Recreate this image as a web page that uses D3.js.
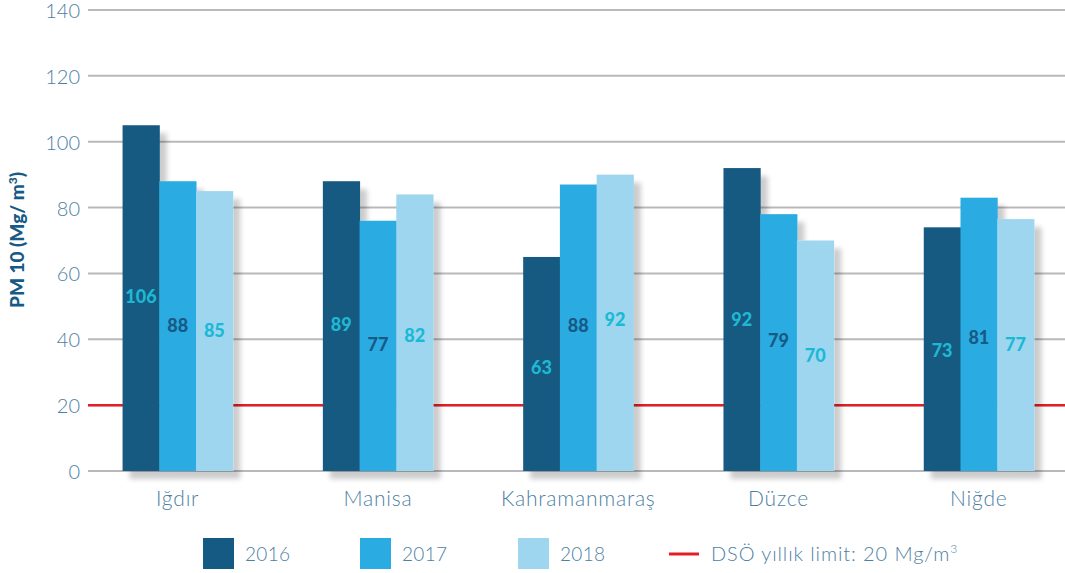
<!DOCTYPE html>
<html>
<head>
<meta charset="utf-8">
<script src="https://d3js.org/d3.v7.min.js"></script>
<style>
  body { margin: 0; background: #fff; }
  text { font-family: Lato, "Open Sans", sans-serif; }
</style>
</head>
<body>
<div id="chart"></div>
<script>
// data
var cities = ["Iğdır", "Manisa", "Kahramanmaraş", "Düzce", "Niğde"];
var years = ["2016", "2017", "2018"];
// bar heights as drawn
var bars2016 = [105, 88, 65, 92, 74];
var bars2017 = [88, 76, 87, 78, 83];
var bars2018 = [85, 84, 90, 70, 76.5];
// printed labels
var labels2016 = [106, 89, 63, 92, 73];
var labels2017 = [88, 77, 88, 79, 81];
var labels2018 = [85, 82, 92, 70, 77];
var yTicks = [0, 20, 40, 60, 80, 100, 120, 140];
var limit = 20;

var colors = ["#155a82", "#2aace2", "#9ed6ef"];
var labelColors = ["#1fb8d2", "#175a85", "#1ab9d6"];

var W = 1065, H = 573;
var svg = d3.select("#chart").append("svg")
  .attr("width", W).attr("height", H);

var defs = svg.append("defs");
var f = defs.append("filter").attr("id", "shadow")
  .attr("x", "-20%").attr("y", "-20%").attr("width", "150%").attr("height", "150%");
f.append("feDropShadow")
  .attr("dx", 7).attr("dy", 8).attr("stdDeviation", 2.5)
  .attr("flood-color", "#000").attr("flood-opacity", 0.2);

var y = d3.scaleLinear().domain([0, 140]).range([471, 10]);
var x0 = d3.scaleBand().domain(cities).range([77.5, 1079])
  .paddingInner(0.45).paddingOuter(0.225);
var x1 = d3.scaleBand().domain(years).range([0, x0.bandwidth()]);

// grid + tick labels
var grid = svg.append("g");
grid.selectAll("line").data(yTicks).join("line")
  .attr("x1", 88).attr("x2", W)
  .attr("y1", d => y(d)).attr("y2", d => y(d))
  .attr("stroke", "#b9b9bd").attr("stroke-width", 2);
grid.selectAll("text").data(yTicks).join("text")
  .attr("x", 80).attr("y", d => y(d) + 1)
  .attr("dy", "0.35em")
  .attr("text-anchor", "end")
  .attr("font-size", 20).attr("font-weight", 300)
  .attr("fill", "#4d7fa3")
  .text(d => d);

// limit line
svg.append("line")
  .attr("x1", 88).attr("x2", W)
  .attr("y1", y(limit)).attr("y2", y(limit))
  .attr("stroke", "#e31e24").attr("stroke-width", 2.5);

var rows = cities.map(function(c, i) {
  return {
    city: c,
    vals: [bars2016[i], bars2017[i], bars2018[i]],
    labs: [labels2016[i], labels2017[i], labels2018[i]]
  };
});

var groups = svg.append("g").selectAll("g").data(rows).join("g")
  .attr("transform", d => "translate(" + x0(d.city) + ",0)");

groups.append("g").attr("filter", "url(#shadow)")
  .selectAll("rect").data(d => d.vals).join("rect")
  .attr("x", (d, i) => x1(years[i]))
  .attr("width", x1.bandwidth() + 0.5)
  .attr("y", d => y(d))
  .attr("height", d => y(0) - y(d))
  .attr("fill", (d, i) => colors[i]);

groups.selectAll("text.val").data(d => d.labs).join("text")
  .attr("class", "val")
  .attr("x", (d, i) => x1(years[i]) + x1.bandwidth() / 2)
  .attr("y", d => y(d / 2))
  .attr("dy", "0.35em")
  .attr("text-anchor", "middle")
  .attr("font-size", 18).attr("font-weight", 900)
  .attr("fill", (d, i) => labelColors[i])
  .text(d => d);

// category labels
svg.append("g").selectAll("text").data(cities).join("text")
  .attr("x", d => x0(d) + x0.bandwidth() / 2)
  .attr("y", 506)
  .attr("text-anchor", "middle")
  .attr("font-size", 21).attr("font-weight", 300)
  .attr("letter-spacing", 0.8)
  .attr("fill", "#4d7fa3")
  .text(d => d);

// y title
svg.append("text")
  .attr("transform", "translate(24,240) rotate(-90)")
  .attr("text-anchor", "middle")
  .attr("font-size", 19).attr("font-weight", 900)
  .attr("fill", "#175a85")
  .html("PM 10 (Mg/ m<tspan dy='-7' font-size='12'>3</tspan><tspan dy='7'>)</tspan>");

// legend
var legX = [203, 360, 518];
var leg = svg.append("g");
leg.selectAll("rect").data(years).join("rect")
  .attr("x", (d, i) => legX[i]).attr("y", 538)
  .attr("width", 31).attr("height", 31)
  .attr("fill", (d, i) => colors[i]);
leg.selectAll("text").data(years).join("text")
  .attr("x", (d, i) => legX[i] + 42).attr("y", 561)
  .attr("font-size", 19).attr("font-weight", 300)
  .attr("letter-spacing", 0.3)
  .attr("fill", "#4d7fa3")
  .text(d => d);
leg.append("line")
  .attr("x1", 669).attr("x2", 699).attr("y1", 554).attr("y2", 554)
  .attr("stroke", "#e31e24").attr("stroke-width", 3);
leg.append("text")
  .attr("x", 711).attr("y", 561)
  .attr("font-size", 20).attr("font-weight", 300)
  .attr("letter-spacing", 0.9)
  .attr("fill", "#4d7fa3")
  .html("DSÖ yıllık limit: 20 Mg/m<tspan dy='-8' font-size='12'>3</tspan>");
</script>
</body>
</html>
